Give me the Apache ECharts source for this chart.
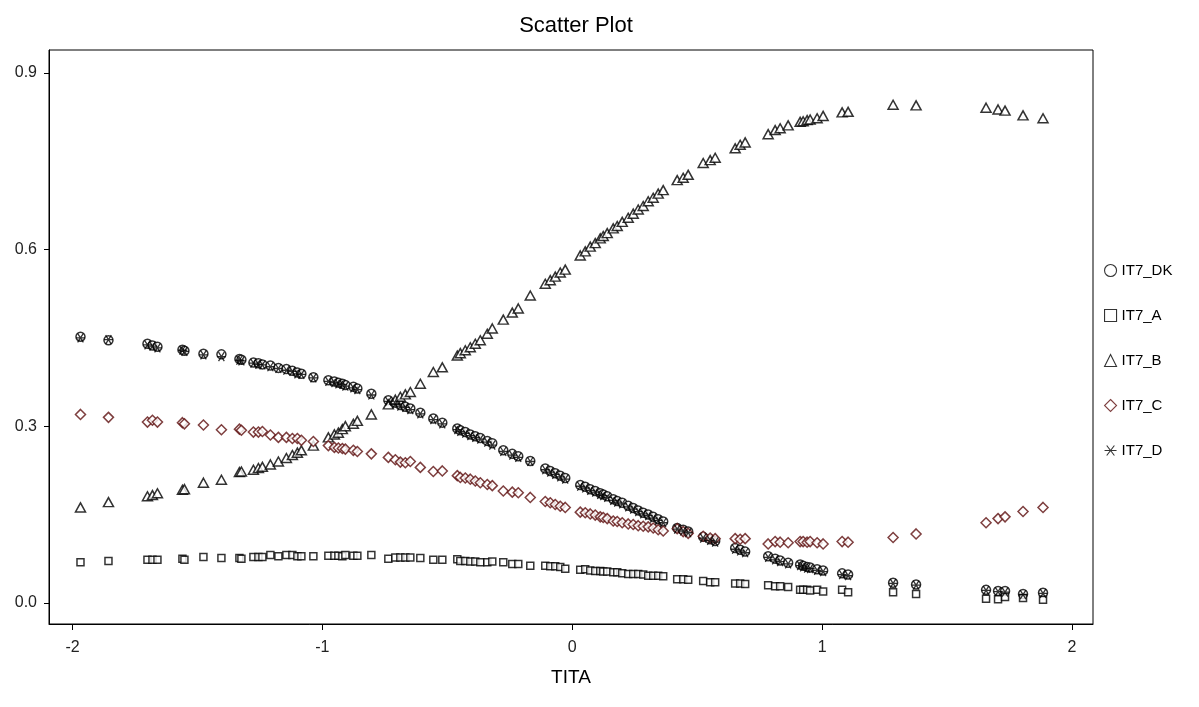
<!DOCTYPE html>
<html>
<head>
<meta charset="utf-8">
<script src="https://cdn.jsdelivr.net/npm/echarts@6/dist/echarts.min.js"></script>
<style>html,body{margin:0;padding:0;background:#fff}#c{width:1199px;height:707px}</style>
</head>
<body>
<div id="c"></div>
<script>
const seriesNames = ['IT7_DK', 'IT7_A', 'IT7_B', 'IT7_C', 'IT7_D'];
const xTicks = [-2, -1, 0, 1, 2];
const yTicks = [0, 0.3, 0.6, 0.9];

const tita = [-1.968,-1.856,-1.700,-1.680,-1.660,-1.560,-1.552,-1.476,-1.404,-1.332,
  -1.324,-1.276,-1.256,-1.240,-1.208,-1.176,-1.144,-1.120,-1.100,-1.084,
  -1.036,-0.976,-0.952,-0.936,-0.920,-0.908,-0.876,-0.860,-0.804,-0.736,
  -0.708,-0.688,-0.668,-0.648,-0.608,-0.556,-0.520,-0.460,-0.448,-0.428,
  -0.408,-0.388,-0.368,-0.340,-0.320,-0.276,-0.240,-0.216,-0.168,-0.108,
  -0.088,-0.068,-0.048,-0.028,0.032,0.052,0.072,0.092,0.112,0.124,
  0.140,0.164,0.180,0.200,0.224,0.244,0.264,0.284,0.304,0.324,
  0.344,0.364,0.420,0.444,0.464,0.524,0.552,0.572,0.652,0.672,
  0.692,0.784,0.812,0.832,0.864,0.912,0.924,0.940,0.952,0.980,
  1.004,1.080,1.104,1.284,1.376,1.656,1.704,1.732,1.804,1.884];

const it7DK = [0.452,0.446,0.440,0.437,0.435,0.430,0.428,0.423,0.422,0.414,
  0.413,0.408,0.407,0.405,0.403,0.399,0.397,0.394,0.391,0.389,
  0.383,0.378,0.376,0.374,0.372,0.370,0.367,0.364,0.355,0.344,
  0.340,0.336,0.333,0.330,0.323,0.313,0.306,0.296,0.293,0.290,
  0.286,0.283,0.280,0.275,0.271,0.259,0.253,0.249,0.241,0.228,
  0.224,0.220,0.216,0.212,0.200,0.197,0.193,0.190,0.186,0.184,
  0.181,0.176,0.173,0.170,0.165,0.161,0.157,0.153,0.150,0.146,
  0.142,0.138,0.127,0.124,0.121,0.112,0.108,0.105,0.093,0.090,
  0.087,0.079,0.075,0.072,0.068,0.065,0.063,0.061,0.060,0.057,
  0.055,0.050,0.048,0.034,0.031,0.022,0.020,0.020,0.015,0.017];

const it7A = [0.069,0.071,0.073,0.073,0.073,0.075,0.073,0.078,0.076,0.076,
  0.075,0.078,0.078,0.078,0.081,0.079,0.081,0.081,0.079,0.079,
  0.079,0.080,0.080,0.080,0.079,0.081,0.080,0.080,0.081,0.075,
  0.077,0.077,0.077,0.077,0.076,0.073,0.073,0.074,0.071,0.071,
  0.070,0.070,0.069,0.069,0.070,0.069,0.066,0.066,0.063,0.063,
  0.062,0.062,0.061,0.058,0.056,0.057,0.055,0.054,0.054,0.053,
  0.053,0.052,0.052,0.050,0.049,0.049,0.049,0.048,0.046,0.046,
  0.046,0.045,0.040,0.040,0.039,0.037,0.035,0.035,0.033,0.033,
  0.032,0.030,0.028,0.028,0.027,0.022,0.022,0.022,0.021,0.022,
  0.019,0.022,0.018,0.018,0.015,0.007,0.006,0.010,0.008,0.005];

const it7B = [0.162,0.171,0.181,0.183,0.186,0.192,0.193,0.204,0.209,0.222,
  0.223,0.226,0.229,0.231,0.235,0.240,0.246,0.251,0.255,0.259,
  0.267,0.281,0.286,0.289,0.295,0.300,0.304,0.309,0.320,0.337,
  0.345,0.350,0.354,0.358,0.372,0.392,0.400,0.420,0.424,0.429,
  0.434,0.440,0.446,0.457,0.466,0.481,0.493,0.500,0.522,0.542,
  0.548,0.554,0.561,0.566,0.590,0.597,0.605,0.611,0.619,0.623,
  0.628,0.636,0.640,0.647,0.654,0.661,0.668,0.674,0.682,0.688,
  0.695,0.701,0.718,0.722,0.727,0.747,0.752,0.756,0.772,0.778,
  0.782,0.796,0.803,0.806,0.811,0.817,0.818,0.820,0.821,0.823,
  0.827,0.833,0.834,0.846,0.845,0.841,0.838,0.836,0.828,0.823];

const it7C = [0.320,0.315,0.307,0.310,0.307,0.306,0.304,0.302,0.294,0.295,
  0.293,0.290,0.290,0.291,0.285,0.281,0.281,0.279,0.279,0.276,
  0.274,0.267,0.264,0.263,0.262,0.261,0.259,0.257,0.253,0.247,
  0.243,0.239,0.238,0.240,0.230,0.223,0.224,0.216,0.213,0.212,
  0.210,0.207,0.204,0.201,0.199,0.190,0.188,0.187,0.179,0.172,
  0.170,0.167,0.164,0.162,0.154,0.153,0.151,0.149,0.146,0.145,
  0.143,0.139,0.138,0.136,0.134,0.133,0.131,0.130,0.129,0.127,
  0.124,0.122,0.126,0.121,0.118,0.113,0.110,0.109,0.109,0.108,
  0.109,0.100,0.104,0.103,0.102,0.104,0.104,0.103,0.104,0.102,
  0.100,0.104,0.103,0.111,0.117,0.136,0.143,0.146,0.155,0.162];

const it7D = [0.450,0.447,0.438,0.436,0.433,0.429,0.427,0.421,0.418,0.412,
  0.411,0.407,0.405,0.404,0.401,0.398,0.395,0.393,0.389,0.388,
  0.382,0.376,0.374,0.372,0.371,0.368,0.365,0.362,0.353,0.342,
  0.338,0.334,0.332,0.328,0.321,0.311,0.304,0.294,0.291,0.288,
  0.284,0.281,0.278,0.273,0.268,0.257,0.251,0.247,0.240,0.226,
  0.222,0.218,0.214,0.210,0.198,0.195,0.191,0.188,0.184,0.182,
  0.179,0.174,0.171,0.168,0.163,0.159,0.155,0.151,0.148,0.144,
  0.140,0.136,0.125,0.122,0.119,0.110,0.106,0.103,0.091,0.088,
  0.085,0.077,0.073,0.070,0.066,0.063,0.061,0.059,0.058,0.055,
  0.053,0.048,0.046,0.033,0.030,0.021,0.019,0.018,0.014,0.016];

const FONT = "'Liberation Sans', Arial, sans-serif";
const pair = ys => tita.map((x, i) => [x, ys[i]]);
const asterisk = 'path://M0,5 L10,5 M1.8,0.8 L8.2,9.2 M8.2,0.8 L1.8,9.2';

const chart = echarts.init(document.getElementById('c'), null, {renderer: 'canvas'});
chart.setOption({
  animation: false,
  backgroundColor: '#fff',
  title: {
    text: 'Scatter Plot', left: 571, top: 10, textAlign: 'center',
    textStyle: {fontFamily: FONT, fontSize: 22, fontWeight: 'normal', color: '#000'}
  },
  legend: {
    orient: 'vertical', left: 1099, top: 258,
    itemWidth: 12, itemHeight: 12, itemGap: 30,
    itemStyle: {borderWidth: 1.1},
    textStyle: {fontFamily: FONT, fontSize: 15, color: '#000'},
    data: seriesNames
  },
  grid: {left: 49, right: 106, top: 50, bottom: 83, show: true, borderColor: '#000', borderWidth: 1, backgroundColor: '#fff'},
  xAxis: {
    type: 'value', min: -2.094, max: 2.084,
    name: 'TITA', nameLocation: 'middle', nameGap: 44,
    nameTextStyle: {fontFamily: FONT, fontSize: 19, color: '#000'},
    axisLine: {show: true, onZero: false, lineStyle: {color: '#000', width: 1}},
    axisTick: {show: true, inside: false, length: 6, lineStyle: {color: '#000'}, customValues: xTicks},
    axisLabel: {fontFamily: FONT, fontSize: 16, color: '#222', margin: 16, customValues: xTicks,
      formatter: v => String(v)},
    splitLine: {show: false}
  },
  yAxis: {
    type: 'value', min: -0.036, max: 0.939,
    axisLine: {show: true, onZero: false, lineStyle: {color: '#000', width: 1}},
    axisTick: {show: true, inside: false, length: 5, lineStyle: {color: '#000'}, customValues: yTicks},
    axisLabel: {fontFamily: FONT, fontSize: 16, color: '#222', margin: 12, customValues: yTicks,
      formatter: v => v.toFixed(1)},
    splitLine: {show: false}
  },
  series: [
    {name: 'IT7_DK', type: 'scatter', symbol: 'circle', symbolSize: 9,
      itemStyle: {color: '#fff', borderColor: '#000', borderWidth: 1.5}, data: pair(it7DK)},
    {name: 'IT7_A', type: 'scatter', symbol: 'rect', symbolSize: 7,
      itemStyle: {color: '#fff', borderColor: '#000', borderWidth: 1.5}, data: pair(it7A)},
    {name: 'IT7_B', type: 'scatter', symbol: 'triangle', symbolSize: [10, 9],
      itemStyle: {color: '#fff', borderColor: '#000', borderWidth: 1.5}, data: pair(it7B)},
    {name: 'IT7_C', type: 'scatter', symbol: 'diamond', symbolSize: 10,
      itemStyle: {color: '#fff', borderColor: '#5e0f0f', borderWidth: 1.5}, data: pair(it7C)},
    {name: 'IT7_D', type: 'scatter', symbol: asterisk, symbolSize: 9,
      itemStyle: {color: 'rgba(0,0,0,0)', borderColor: '#000', borderWidth: 1.3}, data: pair(it7D)}
  ]
});
</script>
</body>
</html>
